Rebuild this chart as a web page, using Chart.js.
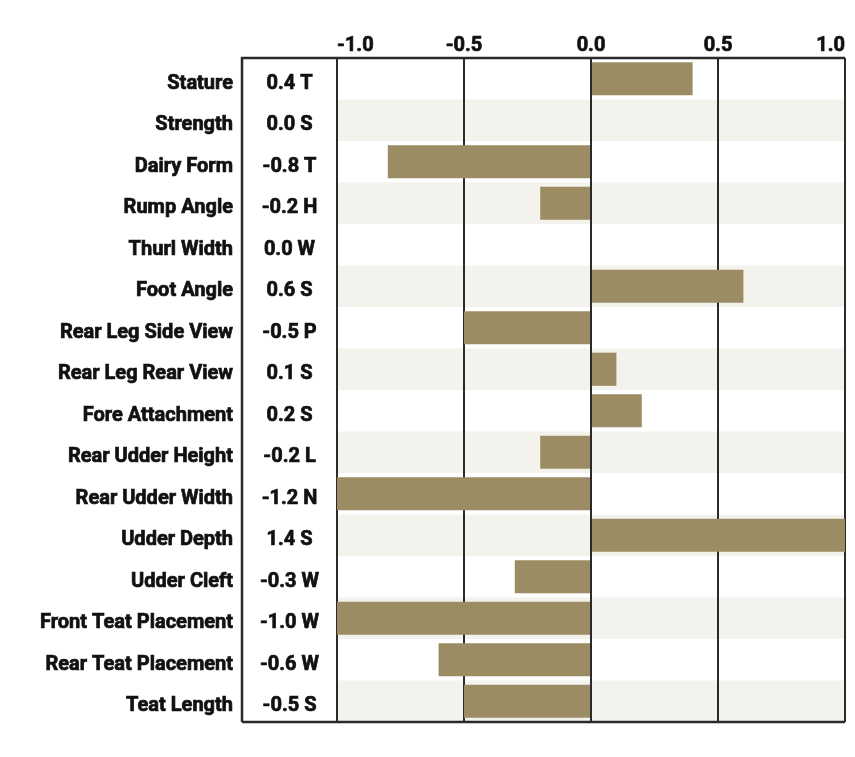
<!DOCTYPE html>
<html>
<head>
<meta charset="utf-8">
<script src="https://cdn.jsdelivr.net/npm/chart.js@4/dist/chart.umd.min.js"></script>
<style>
  html, body { margin: 0; padding: 0; background: #fff; }
  #wrap { width: 855px; height: 757px; }
</style>
</head>
<body>
<div id="wrap"><canvas id="traitChart" width="855" height="757"></canvas></div>
<script>
// 数据
const traits = ['Stature', 'Strength', 'Dairy Form', 'Rump Angle', 'Thurl Width', 'Foot Angle',
    'Rear Leg Side View', 'Rear Leg Rear View', 'Fore Attachment', 'Rear Udder Height',
    'Rear Udder Width', 'Udder Depth', 'Udder Cleft', 'Front Teat Placement',
    'Rear Teat Placement', 'Teat Length'];
const values = [0.4, 0.0, -0.8, -0.2, 0.0, 0.6, -0.5, 0.1, 0.2, -0.2, -1.2, 1.4, -0.3, -1.0, -0.6, -0.5];
const letters = ['T', 'S', 'T', 'H', 'W', 'S', 'P', 'S', 'S', 'L', 'N', 'S', 'W', 'W', 'W', 'S'];
const xTicks = [-1.0, -0.5, 0.0, 0.5, 1.0];

const FONT = 'Roboto, "Liberation Sans", sans-serif';
const FONT_SIZE = 20;
const FONT_WEIGHT = 'bold';
const TEXT_COLOR = '#111';
const TEXT_STROKE = 0.7; // 加粗一点
const BAR_COLOR = '#9c8c63';
const BAND_COLOR = '#f3f2ed';
const LINE_COLOR = '#2a2a2a';

function boldText(ctx, text, x, y) {
    ctx.fillText(text, x, y);
    ctx.strokeText(text, x, y);
}

// 背景条纹 + 边框 + 数值列
const tablePlugin = {
    id: 'tablePlugin',
    beforeDraw(chart) {
        const { ctx, chartArea, scales } = chart;
        const y = scales.y;
        const step = (chartArea.bottom - chartArea.top) / traits.length;
        ctx.save();
        ctx.fillStyle = BAND_COLOR;
        traits.forEach((t, i) => {
            if (i % 2 === 1) {
                const cy = y.getPixelForValue(i);
                ctx.fillRect(chartArea.left, cy - step / 2, chartArea.right - chartArea.left, step);
            }
        });
        ctx.restore();
    },
    afterDraw(chart) {
        const { ctx, chartArea, scales } = chart;
        const x = scales.x;
        const y = scales.y;
        const boxLeft = 242;
        ctx.save();

        // 数值列
        ctx.fillStyle = TEXT_COLOR;
        ctx.strokeStyle = TEXT_COLOR;
        ctx.lineWidth = TEXT_STROKE;
        ctx.font = `${FONT_WEIGHT} ${FONT_SIZE}px ${FONT}`;
        ctx.textAlign = 'center';
        ctx.textBaseline = 'middle';
        const colCenter = (boxLeft + chartArea.left) / 2;
        values.forEach((v, i) => {
            boldText(ctx, `${v.toFixed(1)} ${letters[i]}`, colCenter, y.getPixelForValue(i) + 5);
        });

        // 顶部刻度
        ctx.textBaseline = 'alphabetic';
        x.ticks.forEach((tick, i) => {
            const px = x.getPixelForValue(tick.value);
            ctx.textAlign = i === 0 ? 'left' : (i === x.ticks.length - 1 ? 'right' : 'center');
            boldText(ctx, tick.value.toFixed(1), px, 51);
        });

        // 边框
        ctx.strokeStyle = LINE_COLOR;
        ctx.lineWidth = 2.5;
        ctx.beginPath();
        ctx.moveTo(boxLeft, chartArea.bottom);
        ctx.lineTo(boxLeft, chartArea.top);
        ctx.lineTo(chartArea.right, chartArea.top);
        ctx.moveTo(boxLeft, chartArea.bottom);
        ctx.lineTo(chartArea.right, chartArea.bottom);
        ctx.stroke();
        ctx.restore();
    }
};

new Chart(document.getElementById('traitChart'), {
    type: 'bar',
    data: {
        labels: traits,
        datasets: [{
            data: values,
            backgroundColor: BAR_COLOR,
            borderWidth: 0,
            barPercentage: 0.8,
            categoryPercentage: 1.0
        }]
    },
    options: {
        indexAxis: 'y',
        responsive: false,
        animation: false,
        devicePixelRatio: 1,
        layout: { padding: { left: 0, right: 10, top: 0, bottom: 35 } },
        plugins: {
            legend: { display: false },
            tooltip: { enabled: false }
        },
        scales: {
            x: {
                position: 'top',
                min: -1,
                max: 1,
                afterBuildTicks: (scale) => {
                    scale.ticks = xTicks.map(v => ({ value: v }));
                },
                afterFit: (scale) => {
                    scale.height = 58;
                    scale.paddingLeft = 0;
                    scale.paddingRight = 0;
                },
                ticks: { display: false },
                grid: { color: LINE_COLOR, lineWidth: 2, drawTicks: false },
                border: { display: false }
            },
            y: {
                afterFit: (scale) => {
                    scale.width = 337;
                    scale.paddingTop = 0;
                    scale.paddingBottom = 0;
                },
                ticks: {
                    color: TEXT_COLOR,
                    padding: 104,
                    labelOffset: 5,
                    textStrokeColor: TEXT_COLOR,
                    textStrokeWidth: TEXT_STROKE,
                    font: { family: FONT, size: FONT_SIZE, weight: FONT_WEIGHT }
                },
                grid: { display: false, drawTicks: false },
                border: { display: false }
            }
        }
    },
    plugins: [tablePlugin]
});
</script>
</body>
</html>
